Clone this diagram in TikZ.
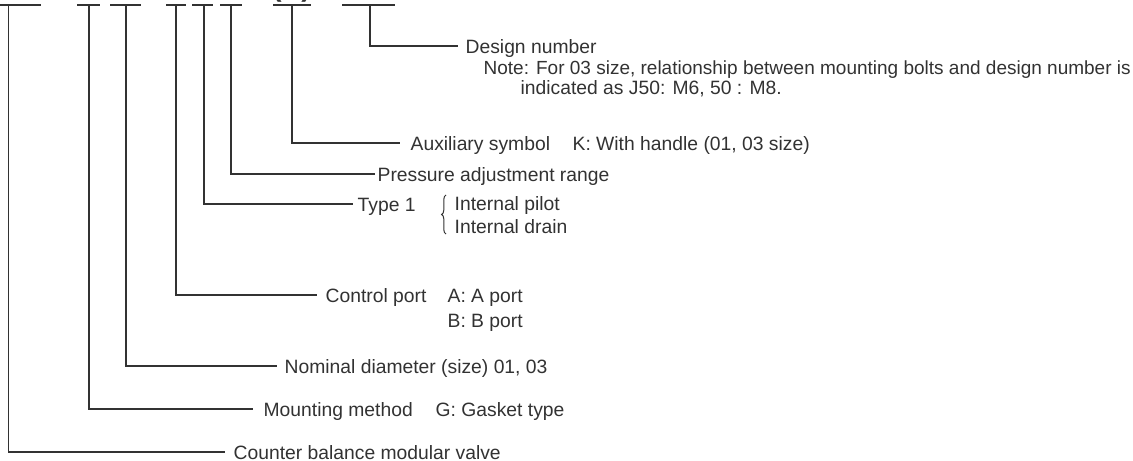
\documentclass[tikz,border=0pt]{standalone}
\usepackage{fontspec}
\setmainfont{Liberation Sans}
\usetikzlibrary{decorations.pathreplacing}
\definecolor{ink}{RGB}{50,50,50}
\begin{document}
\begin{tikzpicture}[x=0.5pt,y=-0.5pt,line width=0.65pt,color=ink,
  lab/.style={anchor=west,inner sep=0pt,text height=0.716em,text depth=0pt,
    font=\fontsize{9.65}{11.6}\selectfont},
  paren/.style={anchor=south,inner sep=0pt,font=\fontsize{14}{16}\selectfont\bfseries}]
\useasboundingbox (0,0) rectangle (1133,460);
% underline bars of the model code
\coordinate (v1) at (8.5,5);
\coordinate (v2) at (89,5);
\coordinate (v3) at (126,5);
\coordinate (v4) at (176,5);
\coordinate (v5) at (204,5);
\coordinate (v6) at (231,5);
\coordinate (v7) at (292,5);
\coordinate (v8) at (370,5);
\draw (0,5) -- (41,5);
\draw (77,5) -- (100,5);
\draw (110,5) -- (141,5);
\draw (166,5) -- (186,5);
\draw (192,5) -- (213,5);
\draw (220,5) -- (242,5);
\draw (273,5) -- (311,5);
\draw (342,5) -- (395,5);
\node[paren] (lp) at (277,3) {(};
\node[paren] (rp) at (306,3) {)};
% labels
\node[lab] (dn) at (465,46) {Design number};
\node[lab,font=\fontsize{9.5}{11.4}\selectfont] (note1) at (483,67) {Note: For 03 size, relationship between mounting bolts and design number is};
\node[lab] (note2) at (520,87) {indicated as J50: M6, 50 : M8.};
\node[lab] (aux) at (410,143) {Auxiliary symbol};
\node[lab] (auxk) at (572,143) {K: With handle (01, 03 size)};
\node[lab] (par) at (377,174) {Pressure adjustment range};
\node[lab] (t1) at (357,204) {Type 1};
\node[lab] (ip) at (454,203) {Internal pilot};
\node[lab] (id) at (454,226) {Internal drain};
\node[lab] (cp) at (325,295) {Control port};
\node[lab] (pa) at (447,295) {A: A port};
\node[lab] (pb) at (447,320) {B: B port};
\node[lab] (nd) at (284,366) {Nominal diameter (size) 01, 03};
\node[lab] (mm) at (263,409) {Mounting method};
\node[lab] (mg) at (435,409) {G: Gasket type};
\node[lab] (cbv) at (233,452) {Counter balance modular valve};
% brace
\coordinate (br1) at (446,234);
\coordinate (br2) at (446,195);
\draw[line width=0.5pt,decorate,decoration={brace,amplitude=2.2pt}] (br1) -- (br2);
% connectors
\draw (v8) |- ([xshift=-3.5pt]dn.west);
\draw (v7) |- ([xshift=-5pt]aux.west);
\draw (v6) |- ([xshift=-1pt]par.west);
\draw (v5) |- ([xshift=-2pt]t1.west);
\draw (v4) |- ([xshift=-4pt]cp.west);
\draw (v3) |- ([xshift=-3.5pt]nd.west);
\draw (v2) |- ([xshift=-5pt]mm.west);
\draw (v1) |- ([xshift=-4pt]cbv.west);
\end{tikzpicture}
\end{document}
